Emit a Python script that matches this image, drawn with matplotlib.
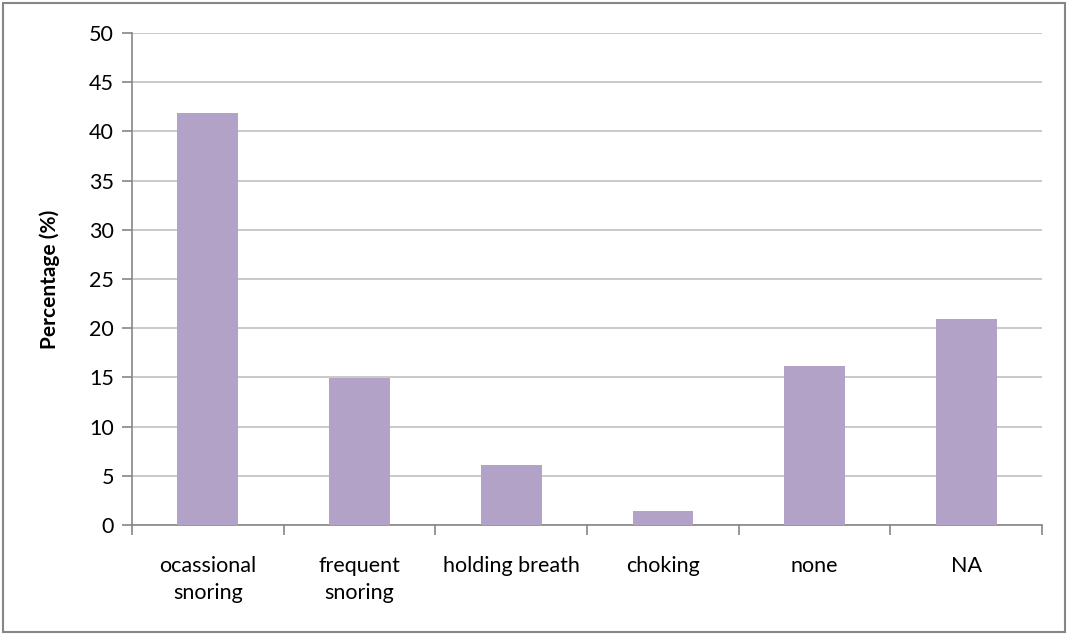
import matplotlib.pyplot as plt
import numpy as np
from matplotlib.patches import Rectangle

categories = ["ocassional\nsnoring", "frequent\nsnoring", "holding breath", "choking", "none", "NA"]
percentages = [41.9, 14.9, 6.1, 1.4, 16.2, 20.9]

plt.rcParams['font.family'] = ['Lato', 'DejaVu Sans']

fig = plt.figure(figsize=(10.68, 6.35), dpi=100)
ax = fig.add_axes([132 / 1068, 1 - 525 / 635, 910 / 1068, 492 / 635])

x = np.arange(len(categories))
ax.bar(x, percentages, width=0.4, color='#B3A2C7', zorder=3)

ax.set_xlim(-0.5, len(categories) - 0.5)
ax.set_ylim(0, 50)
ax.set_yticks(np.arange(0, 51, 5))
ax.yaxis.grid(True, color='#c0c0c0', linewidth=1.2, zorder=0)

# category labels centred on bars, ticks on boundaries
ax.set_xticks(x)
ax.set_xticklabels(categories, fontsize=15.5, linespacing=1.45)
ax.tick_params(axis='x', length=0, pad=22)
ax.set_xticks(np.arange(len(categories) + 1) - 0.5, minor=True)
ax.tick_params(axis='x', which='minor', length=7, color='#868686', width=1.2)
ax.tick_params(axis='y', length=7, color='#868686', width=1.2, labelsize=15.5, pad=6)

for s in ['top', 'right']:
    ax.spines[s].set_visible(False)
for s in ['left', 'bottom']:
    ax.spines[s].set_color('#868686')
    ax.spines[s].set_linewidth(1.2)

ax.set_ylabel('Percentage (%)', fontsize=15, fontweight='bold', labelpad=21)

# outer frame
fig.patches.append(Rectangle((3 / 1068, 3 / 635), 1062 / 1068, 629 / 635,
                             transform=fig.transFigure, fill=False,
                             edgecolor='#868686', linewidth=1.5))

fig.savefig('out.png', dpi=100)
